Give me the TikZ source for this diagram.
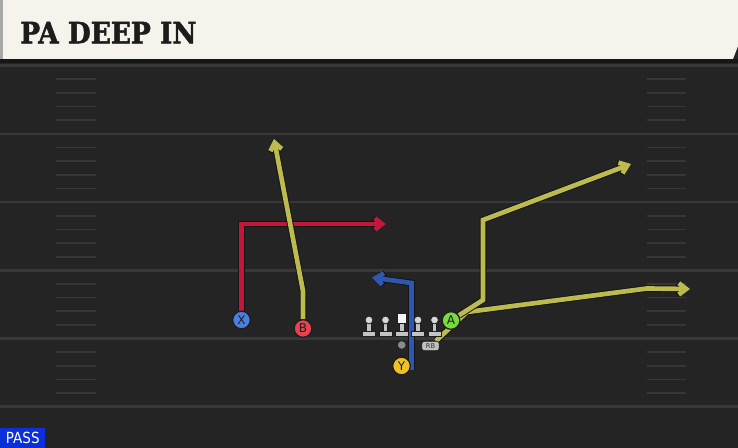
\documentclass[tikz,border=0pt]{standalone}
\usepackage{fontspec}
\usetikzlibrary{arrows.meta}
\newfontfamily\titlefont{DejaVu Serif}[FakeStretch=0.9,FakeBold=1.6]
\newfontfamily\plfont{DejaVu Sans}
\newfontfamily\passfont{DejaVu Sans}[FakeStretch=0.88]
\definecolor{fieldbg}{HTML}{242424}
\definecolor{shadowc}{HTML}{161616}
\definecolor{yardc}{HTML}{383838}
\definecolor{hashc}{HTML}{363636}
\definecolor{bannerc}{HTML}{F5F3EC}
\definecolor{bannerl}{HTML}{A8A8A8}
\definecolor{titlec}{HTML}{1C1C1C}
\definecolor{redroute}{HTML}{C2173A}
\definecolor{oliveroute}{HTML}{BDBB4F}
\definecolor{blueroute}{HTML}{2D57B0}
\definecolor{xfill}{HTML}{4C7FDD}
\definecolor{bfill}{HTML}{E8434F}
\definecolor{yfill}{HTML}{F1C027}
\definecolor{afill}{HTML}{78DA40}
\definecolor{oldark}{HTML}{1E1E1E}
\definecolor{olbase}{HTML}{C4C4C4}
\definecolor{olhead}{HTML}{D8D8D8}
\definecolor{qbc}{HTML}{8A8A8A}
\definecolor{rbc}{HTML}{C0C0C0}
\definecolor{passblue}{HTML}{0B2FD8}
\pgfdeclarelayer{bg}
\pgfdeclarelayer{rt}
\pgfsetlayers{bg,rt,main}
\tikzset{
  outl/.style={draw=black!92, line width=4.9pt, -{Straight Barb[length=5.6pt,width=8.6pt]}},
  routec/.style={draw=#1, line width=3.5pt, -{Straight Barb[length=5.6pt,width=8.6pt]}},
  player/.style={circle, draw=oldark, line width=0.9pt, fill=#1, minimum size=13.2pt,
    inner sep=0pt, font=\plfont\fontsize{9}{9}\selectfont, text=black!88},
  yardline/.style={draw=yardc, line width=1.9pt},
  hashmark/.style={draw=hashc, line width=1.3pt},
  olman/.pic={
    \filldraw[fill=olbase, draw=oldark, line width=0.6pt] (-6.5,11.5) rectangle (6.5,16);
    \filldraw[fill=olbase, draw=oldark, line width=0.6pt] (-2.2,2) rectangle (2.2,11.5);
    \filldraw[fill=olhead, draw=oldark, line width=0.6pt] (0,0) circle (3.9);
  },
  olcenter/.pic={
    \filldraw[fill=olbase, draw=oldark, line width=0.6pt] (-6.5,11.5) rectangle (6.5,16);
    \filldraw[fill=olbase, draw=oldark, line width=0.6pt] (-2.2,3.3) rectangle (2.2,11.5);
    \filldraw[fill=white!96!black, draw=oldark, line width=0.6pt] (-4.6,-6.2) rectangle (4.6,3.4);
  }
}
\newcommand\myroute[2]{\draw[outl] #2; \draw[routec=#1] #2;}
\begin{document}
\begin{tikzpicture}[x=0.75pt,y=-0.75pt]
\useasboundingbox (0,0) rectangle (738,448);
\begin{pgfonlayer}{bg}
  % field
  \fill[fieldbg] (0,0) rectangle (738,448);
  \fill[shadowc] (0,59) rectangle (738,63.5);
  % yard lines and hash marks
  \foreach \k in {0,...,5}{
    \draw[yardline] (0,65.7+68.2*\k) -- (738,65.7+68.2*\k);
  }
  \foreach \k in {0,...,4}{
    \foreach \j in {1,...,4}{
      \draw[hashmark] (56,65.7+68.2*\k+13.64*\j) -- (96,65.7+68.2*\k+13.64*\j);
      \draw[hashmark] (647,65.7+68.2*\k+13.64*\j) -- (686,65.7+68.2*\k+13.64*\j);
    }
  }
  % banner
  \fill[bannerl] (0,0) rectangle (3,59);
  \fill[bannerc] (3,0) -- (738,0) -- (738,46) -- (733,59) -- (3,59) -- cycle;
\end{pgfonlayer}

\node[anchor=base west, inner sep=0pt, text=titlec,
  font=\titlefont\bfseries\fontsize{22}{22}\selectfont] (title) at (20,43.3) {PA DEEP IN};

% offensive line
\pic (ol1) at (369,320) {olman};
\pic (ol2) at (385.5,320) {olman};
\pic (ctr) at (401.7,320) {olcenter};
\pic (ol4) at (418,320) {olman};
\pic (ol5) at (434.5,320) {olman};

% skill players
\node[player=xfill] (X) at (241.5,320) {X};
\node[player=bfill] (B) at (303,328.5) {B};
\node[player=yfill] (Y) at (401.5,366) {Y};
\node[player=afill] (A) at (451,320.5) {A};
\node[circle, fill=qbc, draw=oldark, line width=0.5pt, minimum size=6.5pt, inner sep=0pt] (QB) at (401.7,345) {};
\node[rectangle, rounded corners=1.8pt, fill=rbc, draw=oldark, line width=0.5pt,
  minimum width=13pt, minimum height=7pt, inner sep=0pt,
  font=\plfont\fontsize{5}{5}\selectfont, text=black!80] (RB) at (430.5,346) {RB};

% route points
\coordinate (xc) at (241.5,224);
\coordinate (xe) at (386,224);
\coordinate (bc) at (303,291);
\coordinate (be) at (274,139);
\coordinate (ys) at (411.5,370);
\coordinate (yc) at (411.5,283);
\coordinate (ye) at (372,277.5);
\coordinate (a1) at (483,300);
\coordinate (a2) at (483,220);
\coordinate (a3) at (631,164);
\coordinate (rb1) at (467,312);
\coordinate (rb2) at (647,288.5);
\coordinate (rb3) at (690,289);

\begin{pgfonlayer}{rt}
  \myroute{redroute}{(X) -- (xc) -- (xe)}
  \myroute{oliveroute}{(B) -- (bc) -- (be)}
  \myroute{blueroute}{(ys) -- (yc) -- (ye)}
  \myroute{oliveroute}{(RB) -- (rb1) -- (rb2) -- (rb3)}
  \myroute{oliveroute}{(A) -- (a1) -- (a2) -- (a3)}
\end{pgfonlayer}

% play type label
\node[anchor=south west, fill=passblue, inner sep=0pt, minimum width=33.75pt, minimum height=15pt,
  text=white, font=\passfont\fontsize{11.5}{11.5}\selectfont] (pass) at (0,448) {PASS};
\end{tikzpicture}
\end{document}
